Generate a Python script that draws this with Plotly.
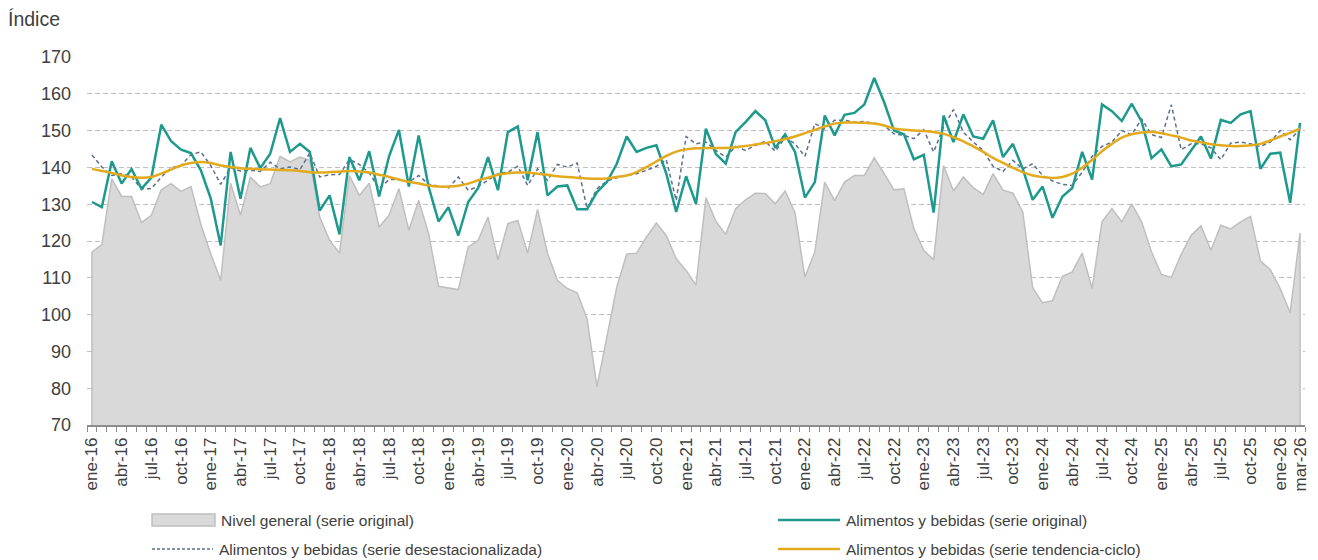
import plotly.graph_objects as go

meses = ["ene", "feb", "mar", "abr", "may", "jun", "jul", "ago", "sep", "oct", "nov", "dic"]
anios = list(range(16, 27))

nivel_general = [
    117.0, 119.0, 136.9, 132.1, 132.1, 125.0, 127.0, 133.9, 135.6, 133.5, 134.8, 124.5,
    116.5, 109.3, 135.7, 127.0, 137.4, 134.7, 135.6, 143.0, 141.5, 142.8, 141.9, 126.5,
    120.2, 116.7, 137.8, 132.4, 135.7, 123.8, 127.0, 134.2, 122.9, 131.0, 122.0, 107.7,
    107.2, 106.8, 118.4, 120.2, 126.5, 114.9, 124.7, 125.6, 116.7, 128.6, 116.7, 109.3,
    107.1, 105.9, 98.9, 80.4, 93.9, 107.5, 116.4, 116.7, 121.1, 124.9, 121.5, 115.2,
    112.0, 108.0, 131.8, 125.4, 121.8, 128.8, 131.2, 133.0, 132.9, 130.1, 133.6, 127.6,
    110.2, 117.0, 136.0, 131.0, 136.0, 137.8, 137.8, 142.6, 138.3, 133.9, 134.2, 123.3,
    117.5, 114.9, 140.5, 133.6, 137.4, 134.5, 132.6, 138.3, 133.8, 133.0, 127.9, 107.3,
    103.2, 103.8, 110.4, 111.6, 116.7, 107.1, 125.2, 128.8, 125.2, 130.1, 125.2, 117.0,
    110.9, 110.1, 116.4, 121.5, 124.1, 117.5, 124.3, 123.3, 125.2, 126.7, 114.6, 112.2,
    107.1, 100.5, 122.2,
]

alim_original = [
    130.6, 129.2, 141.7, 135.6, 139.6, 134.2, 137.2, 151.6, 147.1, 144.8, 143.9, 139.2,
    131.5, 118.8, 144.2, 131.5, 145.3, 139.8, 143.7, 153.4, 144.2, 146.4, 144.2, 128.3,
    132.4, 121.8, 142.8, 136.5, 144.4, 132.1, 143.0, 150.2, 134.8, 148.7, 134.7, 125.3,
    129.2, 121.5, 130.6, 134.4, 142.8, 133.8, 149.6, 151.1, 136.5, 149.6, 132.4, 134.8,
    135.1, 128.6, 128.6, 133.3, 136.0, 141.0, 148.4, 144.2, 145.3, 146.0, 138.3, 127.9,
    137.6, 130.1, 150.5, 143.7, 141.0, 149.6, 152.3, 155.3, 152.8, 145.3, 149.0, 144.2,
    131.8, 136.0, 154.1, 148.7, 154.3, 154.8, 157.1, 164.3, 157.7, 150.0, 149.0, 142.2,
    143.4, 127.7, 154.1, 146.9, 154.4, 148.4, 147.8, 152.8, 142.8, 146.4, 139.6, 131.2,
    134.8, 126.3, 132.1, 134.4, 144.2, 136.7, 157.1, 155.3, 152.6, 157.3, 152.5, 142.5,
    144.9, 140.3, 140.8, 144.6, 148.4, 142.4, 152.9, 152.1, 154.4, 155.3, 139.6, 143.7,
    144.0, 130.4, 152.1,
]

alim_desest = [
    143.4, 140.1, 137.8, 138.3, 137.4, 134.2, 134.2, 137.4, 139.9, 140.5, 143.5, 144.2,
    140.5, 135.4, 139.9, 139.0, 139.2, 138.9, 141.4, 139.6, 140.1, 139.4, 143.9, 137.4,
    138.0, 138.1, 142.1, 140.8, 138.5, 134.2, 136.7, 136.7, 136.0, 137.8, 135.4, 134.8,
    134.4, 137.4, 133.8, 134.8, 136.6, 138.3, 138.7, 140.3, 135.1, 139.6, 136.5, 140.8,
    140.1, 141.2, 128.8, 134.2, 136.3, 137.2, 137.8, 138.3, 139.2, 140.3, 142.1, 131.0,
    148.4, 146.4, 146.9, 144.6, 142.8, 145.7, 144.6, 146.0, 147.1, 144.4, 148.1, 146.4,
    143.0, 151.9, 150.5, 152.8, 152.8, 152.3, 152.5, 152.0, 151.4, 149.1, 148.7, 147.8,
    150.2, 144.2, 151.0, 155.7, 149.6, 146.9, 144.6, 140.3, 138.9, 141.9, 139.6, 141.0,
    137.8, 136.3, 135.4, 135.1, 138.7, 143.0, 145.7, 146.9, 150.0, 148.9, 153.2, 148.9,
    148.1, 157.0, 144.8, 146.4, 146.4, 145.3, 142.1, 146.6, 146.9, 146.4, 145.7, 146.9,
    150.0, 147.5, 150.5,
]

alim_tendencia = [
    139.6, 139.0, 138.5, 137.8, 137.4, 137.2, 137.4, 138.3, 139.4, 140.5, 141.2, 141.5,
    141.2, 140.5, 140.1, 139.8, 139.6, 139.5, 139.4, 139.3, 139.2, 139.0, 138.7, 138.6,
    138.7, 138.9, 139.0, 138.9, 138.6, 138.0, 137.4, 136.7, 136.1, 135.6, 135.1, 134.8,
    134.8, 135.0, 135.6, 136.5, 137.2, 138.0, 138.4, 138.6, 138.6, 138.3, 138.0, 137.6,
    137.4, 137.2, 137.0, 136.9, 137.0, 137.4, 137.8, 138.7, 140.1, 141.6, 143.1, 144.3,
    144.9, 145.2, 145.3, 145.3, 145.3, 145.5, 145.8, 146.2, 146.6, 147.1, 147.7, 148.4,
    149.3, 150.2, 151.1, 151.9, 152.2, 152.2, 152.1, 151.9, 151.4, 150.6, 150.2, 150.0,
    149.9, 149.6, 149.1, 148.2, 147.1, 145.7, 144.2, 142.6, 141.2, 139.9, 138.7, 137.8,
    137.4, 137.1, 137.4, 138.3, 139.9, 142.0, 144.4, 146.4, 148.1, 149.0, 149.5, 149.6,
    149.3, 148.7, 148.1, 147.3, 146.8, 146.3, 146.0, 145.8, 145.8, 146.0, 146.4, 147.3,
    148.4, 149.4, 150.5,
]

nombres = [
    "Nivel general (serie original)",
    "Alimentos y bebidas (serie original)",
    "Alimentos y bebidas (serie desestacionalizada)",
    "Alimentos y bebidas (serie tendencia-ciclo)",
]

GRIS_FILL = "#d9d9d9"
GRIS_LINEA = "#bfbfbf"
VERDE = "#1d9a8d"
AZUL = "#5b6f8e"
AMARILLO = "#e3aa1d"
TEXTO = "#404040"
FUENTE = "Liberation Sans, Arial, sans-serif"

etiquetas = [f"{m}-{a}" for a in anios for m in meses][:len(nivel_general)]
x = list(range(len(etiquetas)))
y_min = 70

# ticks: every third month plus the last one
tick_pos = x[::3] + [x[-1]]
tick_txt = [etiquetas[i] for i in tick_pos]

fig = go.Figure()

# gray area closed down to the axis floor so the outline has vertical edges
fig.add_trace(go.Scatter(
    x=[x[0]] + x + [x[-1]],
    y=[y_min] + nivel_general + [y_min],
    fill="toself", fillcolor=GRIS_FILL,
    line=dict(color=GRIS_LINEA, width=1.5),
    mode="lines", name=nombres[0], showlegend=False, hoverinfo="skip"))

fig.add_trace(go.Scatter(
    x=x, y=alim_desest, mode="lines", name=nombres[2], showlegend=False,
    line=dict(color=AZUL, width=1.5, dash="4px,3px")))

fig.add_trace(go.Scatter(
    x=x, y=alim_original, mode="lines", name=nombres[1], showlegend=False,
    line=dict(color=VERDE, width=2.5)))

fig.add_trace(go.Scatter(
    x=x, y=alim_tendencia, mode="lines", name=nombres[3], showlegend=False,
    line=dict(color=AMARILLO, width=2.5, shape="spline")))

L, R, T, B = 87, 13, 57, 135
W, H = 1318, 560
pw, ph = W - L - R, H - T - B


def px_x(v):
    return (v - L) / pw


def px_y(v):
    return (H - B - v) / ph


# hand-drawn legend
leyenda = [
    (152, 215, 520, nombres[0], "box", None),
    (778, 840, 520, nombres[1], "line", dict(color=VERDE, width=2.5)),
    (152, 213, 549, nombres[2], "line", dict(color=AZUL, width=1.5, dash="3px,2px")),
    (778, 840, 549, nombres[3], "line", dict(color=AMARILLO, width=2.5)),
]
for x0, x1, yc, txt, tipo, estilo in leyenda:
    if tipo == "box":
        fig.add_shape(type="rect", xref="paper", yref="paper",
                      x0=px_x(x0), x1=px_x(x1), y0=px_y(yc + 6), y1=px_y(yc - 6),
                      fillcolor=GRIS_FILL, line=dict(color=GRIS_LINEA, width=1.5))
    else:
        fig.add_shape(type="line", xref="paper", yref="paper",
                      x0=px_x(x0), x1=px_x(x1), y0=px_y(yc), y1=px_y(yc), line=estilo)
    fig.add_annotation(xref="paper", yref="paper", x=px_x(x1 + 4), y=px_y(yc),
                       xanchor="left", yanchor="middle", showarrow=False, text=txt,
                       font=dict(family=FUENTE, size=15.5, color=TEXTO))

fig.add_annotation(xref="paper", yref="paper", x=px_x(6), y=px_y(19),
                   xanchor="left", yanchor="middle", showarrow=False, text="Índice",
                   font=dict(family=FUENTE, size=19.5, color=TEXTO))

fig.update_layout(
    width=W, height=H,
    margin=dict(l=L, r=R, t=T, b=B, autoexpand=False),
    plot_bgcolor="white", paper_bgcolor="white",
    showlegend=False,
    font=dict(family=FUENTE, size=15, color=TEXTO),
)

fig.update_xaxes(
    range=[-0.5, len(x) - 0.5],
    tickmode="array", tickvals=tick_pos, ticktext=tick_txt,
    tickangle=-90, ticks="", ticklabelstandoff=4,
    tickfont=dict(size=17, color=TEXTO),
    showgrid=False, zeroline=False, automargin=False,
    showline=True, linecolor="#8c8c8c", linewidth=1.5,
    minor=dict(tickmode="array", tickvals=[i - 0.5 for i in range(len(x) + 1)],
               ticks="outside", ticklen=5, tickcolor="#8c8c8c", tickwidth=1.2,
               showgrid=False),
)

fig.update_yaxes(
    range=[y_min, 170], dtick=10, tick0=70,
    showgrid=True, gridcolor=GRIS_LINEA, gridwidth=1, griddash="5px,3px",
    zeroline=False, showline=False, ticks="", automargin=False,
    ticklabelstandoff=15,
    tickfont=dict(size=18, color=TEXTO),
)

# the page body has a default margin; drop it so the figure sits at the corner
fig.write_html("out.html", config={"displayModeBar": False},
               post_script="document.body.style.margin='0';")
